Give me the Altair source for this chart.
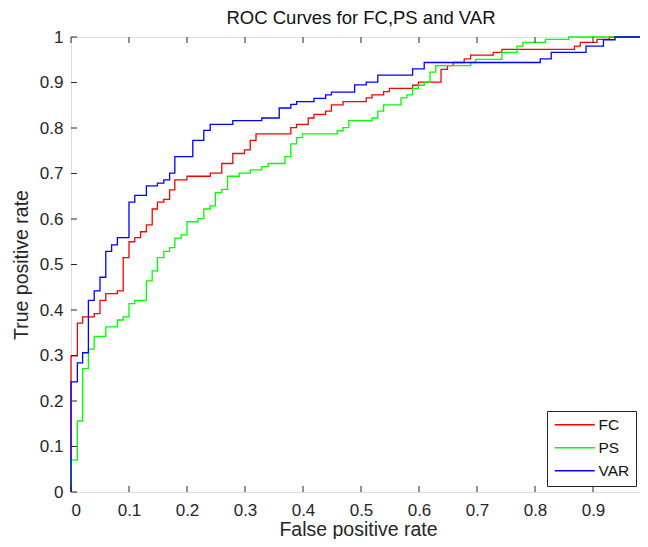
import altair as alt
import pandas as pd

series_names = ["FC", "PS", "VAR"]
series_colors = ["#ff0000", "#00ff00", "#0000ff"]

fc_x = [0, 0, 0.011, 0.020, 0.040, 0.050, 0.060, 0.080, 0.090, 0.100,
        0.110, 0.120, 0.130, 0.140, 0.149, 0.160, 0.170, 0.179, 0.200, 0.240,
        0.260, 0.279, 0.299, 0.309, 0.319, 0.379, 0.389, 0.409, 0.419, 0.439,
        0.449, 0.469, 0.509, 0.519, 0.539, 0.549, 0.589, 0.599, 0.638, 0.649,
        0.659, 0.678, 0.689, 0.728, 0.743, 0.868, 0.878, 0.907, 0.928, 1.0]
fc_y = [0, 0.299, 0.371, 0.385, 0.392, 0.421, 0.436, 0.442, 0.515, 0.550,
        0.559, 0.572, 0.587, 0.622, 0.637, 0.643, 0.664, 0.686, 0.694, 0.701,
        0.722, 0.744, 0.752, 0.773, 0.787, 0.801, 0.808, 0.822, 0.830, 0.837,
        0.851, 0.858, 0.866, 0.873, 0.880, 0.887, 0.894, 0.901, 0.929, 0.937,
        0.944, 0.952, 0.960, 0.966, 0.973, 0.980, 0.988, 0.995, 1.0, 1.0]

ps_x = [0, 0, 0.011, 0.020, 0.030, 0.040, 0.060, 0.080, 0.090, 0.100,
        0.110, 0.130, 0.140, 0.149, 0.160, 0.170, 0.179, 0.190, 0.200, 0.219,
        0.229, 0.240, 0.249, 0.260, 0.270, 0.290, 0.309, 0.329, 0.340, 0.369,
        0.379, 0.389, 0.399, 0.459, 0.469, 0.479, 0.519, 0.529, 0.539, 0.569,
        0.579, 0.589, 0.599, 0.609, 0.619, 0.629, 0.689, 0.698, 0.743, 0.769,
        0.779, 0.818, 0.858, 1.0]
ps_y = [0, 0.070, 0.156, 0.271, 0.314, 0.342, 0.363, 0.378, 0.385, 0.414,
        0.421, 0.464, 0.486, 0.515, 0.529, 0.537, 0.558, 0.565, 0.594, 0.601,
        0.622, 0.629, 0.658, 0.665, 0.694, 0.701, 0.708, 0.715, 0.722, 0.737,
        0.765, 0.779, 0.787, 0.794, 0.801, 0.816, 0.822, 0.837, 0.851, 0.866,
        0.873, 0.887, 0.894, 0.901, 0.923, 0.937, 0.944, 0.951, 0.966, 0.980,
        0.988, 0.995, 1.0, 1.0]

var_x = [0, 0, 0.011, 0.020, 0.030, 0.040, 0.050, 0.060, 0.070, 0.080,
         0.100, 0.110, 0.130, 0.149, 0.160, 0.170, 0.179, 0.210, 0.229, 0.240,
         0.279, 0.329, 0.359, 0.379, 0.389, 0.419, 0.439, 0.449, 0.489, 0.509,
         0.529, 0.589, 0.609, 0.809, 0.828, 0.888, 0.918, 0.938, 1.0]
var_y = [0, 0.242, 0.284, 0.306, 0.421, 0.442, 0.472, 0.529, 0.543, 0.559,
         0.637, 0.652, 0.673, 0.679, 0.686, 0.701, 0.737, 0.773, 0.795, 0.808,
         0.816, 0.822, 0.844, 0.852, 0.858, 0.865, 0.873, 0.879, 0.895, 0.901,
         0.916, 0.930, 0.944, 0.952, 0.966, 0.980, 0.994, 1.0, 1.0]

tick_values = [0, 0.1, 0.2, 0.3, 0.4, 0.5, 0.6, 0.7, 0.8, 0.9, 1]

rows = []
for name, xs, ys in [("FC", fc_x, fc_y), ("PS", ps_x, ps_y), ("VAR", var_x, var_y)]:
    for i, (xv, yv) in enumerate(zip(xs, ys)):
        rows.append({"series": name, "fpr": xv, "tpr": yv, "idx": i})
df = pd.DataFrame(rows)
tdf = pd.DataFrame({"fpr": tick_values, "tpr": tick_values})

FONT = "Liberation Sans"
AX = "#262626"
W, H = 580, 455
TL = 6

xscale = alt.Scale(domain=[0, 1], nice=False, zero=False)
yscale = alt.Scale(domain=[0, 1], nice=False, zero=False)

x_axis = alt.Axis(title="False positive rate", values=tick_values, format="~g",
                  grid=False, ticks=False, domain=False,
                  labelFontSize=17, labelPadding=10, labelFont=FONT, labelColor=AX,
                  titleFontSize=19.5, titleFont=FONT, titleColor=AX, titleFontWeight="normal",
                  titleX=287, titleY=37.5, titleBaseline="middle")
y_axis = alt.Axis(title="True positive rate", values=tick_values, format="~g",
                  grid=False, ticks=False, domain=False,
                  labelFontSize=17, labelPadding=8, labelFont=FONT, labelColor=AX,
                  titleFontSize=19.5, titleFont=FONT, titleColor=AX, titleFontWeight="normal",
                  titleX=-50, titleY=H / 2, titleBaseline="middle", titleAngle=-90)

lines = alt.Chart(df).mark_line(interpolate="step-after", strokeWidth=1.3).encode(
    x=alt.X("fpr:Q", scale=xscale, axis=x_axis),
    y=alt.Y("tpr:Q", scale=yscale, axis=y_axis),
    color=alt.Color("series:N",
                    scale=alt.Scale(domain=series_names, range=series_colors),
                    legend=alt.Legend(title=None, orient="none", legendX=476, legendY=374,
                                      symbolType="M-4,0L4,0", symbolSize=100,
                                      symbolStrokeWidth=1.5, symbolOffset=14,
                                      labelOffset=16, labelFontSize=15.5, labelFont=FONT,
                                      labelColor="#111111",
                                      padding=6, rowPadding=6,
                                      strokeColor=AX, fillColor="white")),
    order="idx:Q",
)

tick_bottom = alt.Chart(tdf).mark_rule(color=AX, strokeWidth=1).encode(
    x=alt.X("fpr:Q", scale=xscale, axis=x_axis), y=alt.value(H), y2=alt.value(H - TL))
tick_top = alt.Chart(tdf).mark_rule(color=AX, strokeWidth=1).encode(
    x=alt.X("fpr:Q", scale=xscale, axis=x_axis), y=alt.value(0), y2=alt.value(TL))
tick_left = alt.Chart(tdf).mark_rule(color=AX, strokeWidth=1).encode(
    y=alt.Y("tpr:Q", scale=yscale, axis=y_axis), x=alt.value(0), x2=alt.value(TL))
tick_right = alt.Chart(tdf).mark_rule(color=AX, strokeWidth=1).encode(
    y=alt.Y("tpr:Q", scale=yscale, axis=y_axis), x=alt.value(W), x2=alt.value(W - TL))

chart = alt.layer(lines, tick_bottom, tick_top, tick_left, tick_right).properties(
    width=W, height=H,
    title=alt.TitleParams("ROC Curves for FC,PS and VAR", fontSize=18.5, fontWeight="normal",
                          font=FONT, color="#111111", anchor="middle", offset=1),
    autosize=alt.AutoSizeParams(type="none"),
    padding={"left": 63, "top": 29, "right": -11, "bottom": 47},
).configure_view(stroke=AX, strokeWidth=1).configure(background="white")

chart.save("out.html", embed_options={"renderer": "svg", "actions": False})
